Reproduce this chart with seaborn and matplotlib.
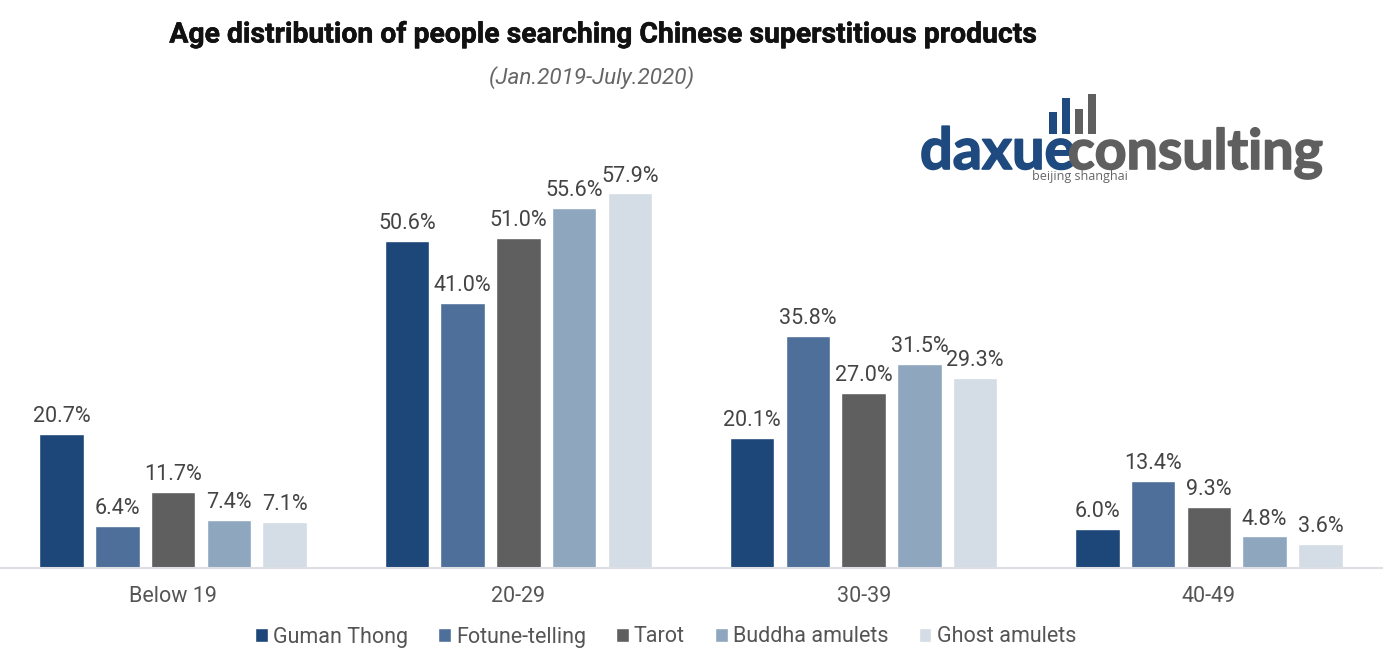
import pandas as pd
import seaborn as sns
import matplotlib.pyplot as plt
import matplotlib.patheffects as pe
from matplotlib.patches import Rectangle

# Values
age_groups = ['Below 19', '20-29', '30-39', '40-49']
series_names = ['Guman Thong', 'Fotune-telling', 'Tarot', 'Buddha amulets', 'Ghost amulets']
guman_thong = [20.7, 50.6, 20.1, 6.0]
fortune_telling = [6.4, 41.0, 35.8, 13.4]
tarot = [11.7, 51.0, 27.0, 9.3]
buddha_amulets = [7.4, 55.6, 31.5, 4.8]
ghost_amulets = [7.1, 57.9, 29.3, 3.6]
colors = ['#1d4679', '#4e6f99', '#5f5f5f', '#8fa6bf', '#d4dce6']

W, H = 1396, 666

# Long format table for seaborn
rows = []
for name, values in zip(series_names, [guman_thong, fortune_telling, tarot, buddha_amulets, ghost_amulets]):
    for age, value in zip(age_groups, values):
        rows.append({'age': age, 'share': value, 'product': name})
df = pd.DataFrame(rows)

sns.set_theme(style='white')
plt.rcParams['font.family'] = ['Roboto', 'DejaVu Sans']

fig = plt.figure(figsize=(W / 100, H / 100), dpi=100)
ax = fig.add_axes([0.5 / W, (H - 567.5) / H, 1381 / W, 450 / H])

sns.barplot(df, x='age', y='share', hue='product', palette=colors, width=0.807, gap=0.2,
            saturation=1, ax=ax)

ax.set_xlim(-0.5, 3.5)
ax.set_ylim(0, 450 / 6.46)
ax.set_xlabel('')
ax.set_ylabel('')
ax.set_yticks([])
ax.tick_params(axis='x', length=0, pad=13, labelsize=15.5, labelcolor='#555555')
sns.despine(ax=ax, left=True)
ax.spines['bottom'].set_color('#dcdfe3')
ax.spines['bottom'].set_linewidth(1.5)

# Value labels above the bars
for container in ax.containers:
    ax.bar_label(container, fmt='%.1f%%', padding=5, fontsize=15.5, color='#444444')

# Legend under the chart
ax.legend(loc='center', bbox_to_anchor=(665 / 1381, (567.5 - 637) / 450), ncol=5, frameon=False,
          fontsize=15.5, labelcolor='#555555', handlelength=0.58, handleheight=0.58,
          handletextpad=0.25, columnspacing=1.4, borderpad=0)

# Title and date range
fig.text(603.5 / W, 1 - 35 / H, 'Age distribution of people searching Chinese superstitious products',
         ha='center', va='center', fontsize=20.4, fontweight='bold', color='#111111',
         path_effects=[pe.withStroke(linewidth=0.4, foreground='#111111')])
fig.text(592 / W, 1 - 78 / H, '(Jan.2019-July.2020)', ha='center', va='center', fontsize=16.2,
         style='italic', color='#666666')

# Logo: wordmark and small bars
fig.text(920 / W, 1 - 169 / H, 'daxue', ha='left', va='baseline', fontsize=41.5, fontweight='bold',
         family='Lato', color='#1f4a80', path_effects=[pe.withStroke(linewidth=1.2, foreground='#1f4a80')])
fig.text(1323 / W, 1 - 169 / H, 'consulting', ha='right', va='baseline', fontsize=40, fontweight='bold',
         family='Lato', color='#5f5f5f', path_effects=[pe.withStroke(linewidth=1.2, foreground='#5f5f5f')])
fig.text(1080 / W, 1 - 177 / H, 'beijing shanghai', ha='center', va='center', fontsize=9,
         family='Open Sans', color='#666666')
logo_bars = [(1049, 112, '#1f4a80'), (1062, 98, '#1f4a80'), (1075, 109, '#5f5f5f'), (1088, 94, '#5f5f5f')]
for x, top, color in logo_bars:
    fig.add_artist(Rectangle((x / W, 1 - 134 / H), 8 / W, (134 - top) / H, transform=fig.transFigure,
                             color=color, lw=0))

fig.savefig('out.png', dpi=100)
